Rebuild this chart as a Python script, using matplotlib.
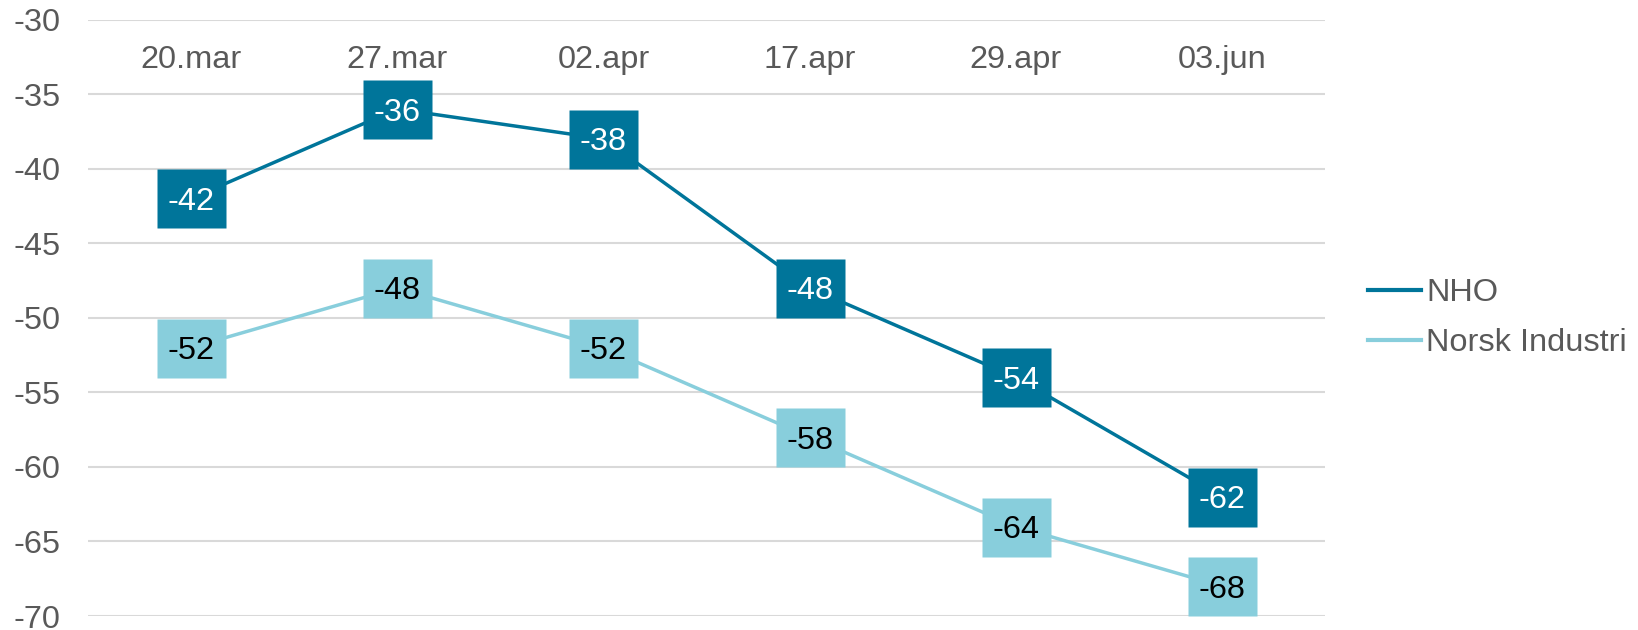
import numpy as np
import matplotlib.pyplot as plt
from matplotlib.path import Path

plt.rcParams['font.family'] = ['Liberation Sans', 'DejaVu Sans']
plt.rcParams['axes.unicode_minus'] = False

dates = ['20.mar', '27.mar', '02.apr', '17.apr', '29.apr', '03.jun']
nho = [-42, -36, -38, -48, -54, -62]
norsk = [-52, -48, -52, -58, -64, -68]

c_nho = '#00759A'
c_norsk = '#88CEDC'
gray = '#595959'
fs = 23.4

fig = plt.figure(figsize=(16.38, 6.3), dpi=100)
ax = fig.add_axes([0.0537, 0.0222, 0.809 - 0.0537, 0.969 - 0.0222])

# rectangular marker, 69x59 px
h = 0.5 * 59 / 69
box = Path([(-0.5, -h), (0.5, -h), (0.5, h), (-0.5, h), (-0.5, -h)],
           [Path.MOVETO, Path.LINETO, Path.LINETO, Path.LINETO, Path.CLOSEPOLY])
ms = 69 * 72 / 100

x = np.arange(len(dates))
series = [(nho, c_nho, 'white', 'NHO'), (norsk, c_norsk, 'black', 'Norsk Industri')]
for vals, col, tcol, lab in series:
    ax.plot(x, vals, color=col, lw=2.5, label=lab, zorder=3)
    ax.plot(x, vals, ls='none', marker=box, ms=ms, mfc=col, mec='none', zorder=4)
    for xi, v in zip(x, vals):
        ax.text(xi, v, f'{v}', ha='center', va='center_baseline', fontsize=fs,
                color=tcol, zorder=5)

for xi, d in zip(x, dates):
    ax.text(xi, -32.5, d, ha='center', va='center_baseline', fontsize=fs, color=gray)

ax.set_xlim(-0.5, len(dates) - 0.5)
ax.set_ylim(-70, -30)
ax.set_yticks(np.arange(-70, -29, 5))
ax.set_xticks([])
ax.grid(axis='y', color='#D9D9D9', lw=1.5)
ax.set_axisbelow(True)
for s in ax.spines.values():
    s.set_visible(False)
ax.tick_params(axis='y', length=0, pad=20, labelsize=fs, labelcolor=gray)

handles = [plt.Line2D([], [], color=c, lw=3) for _, c, _, _ in series]
leg = fig.legend(handles, [s[3] for s in series], loc='center left',
                 bbox_to_anchor=(0.835, 0.495), frameon=False, fontsize=fs,
                 handlelength=1.65, handletextpad=0.15, labelspacing=0.6,
                 labelcolor=gray, borderpad=0, borderaxespad=0)

fig.savefig('out.png', dpi=100)
